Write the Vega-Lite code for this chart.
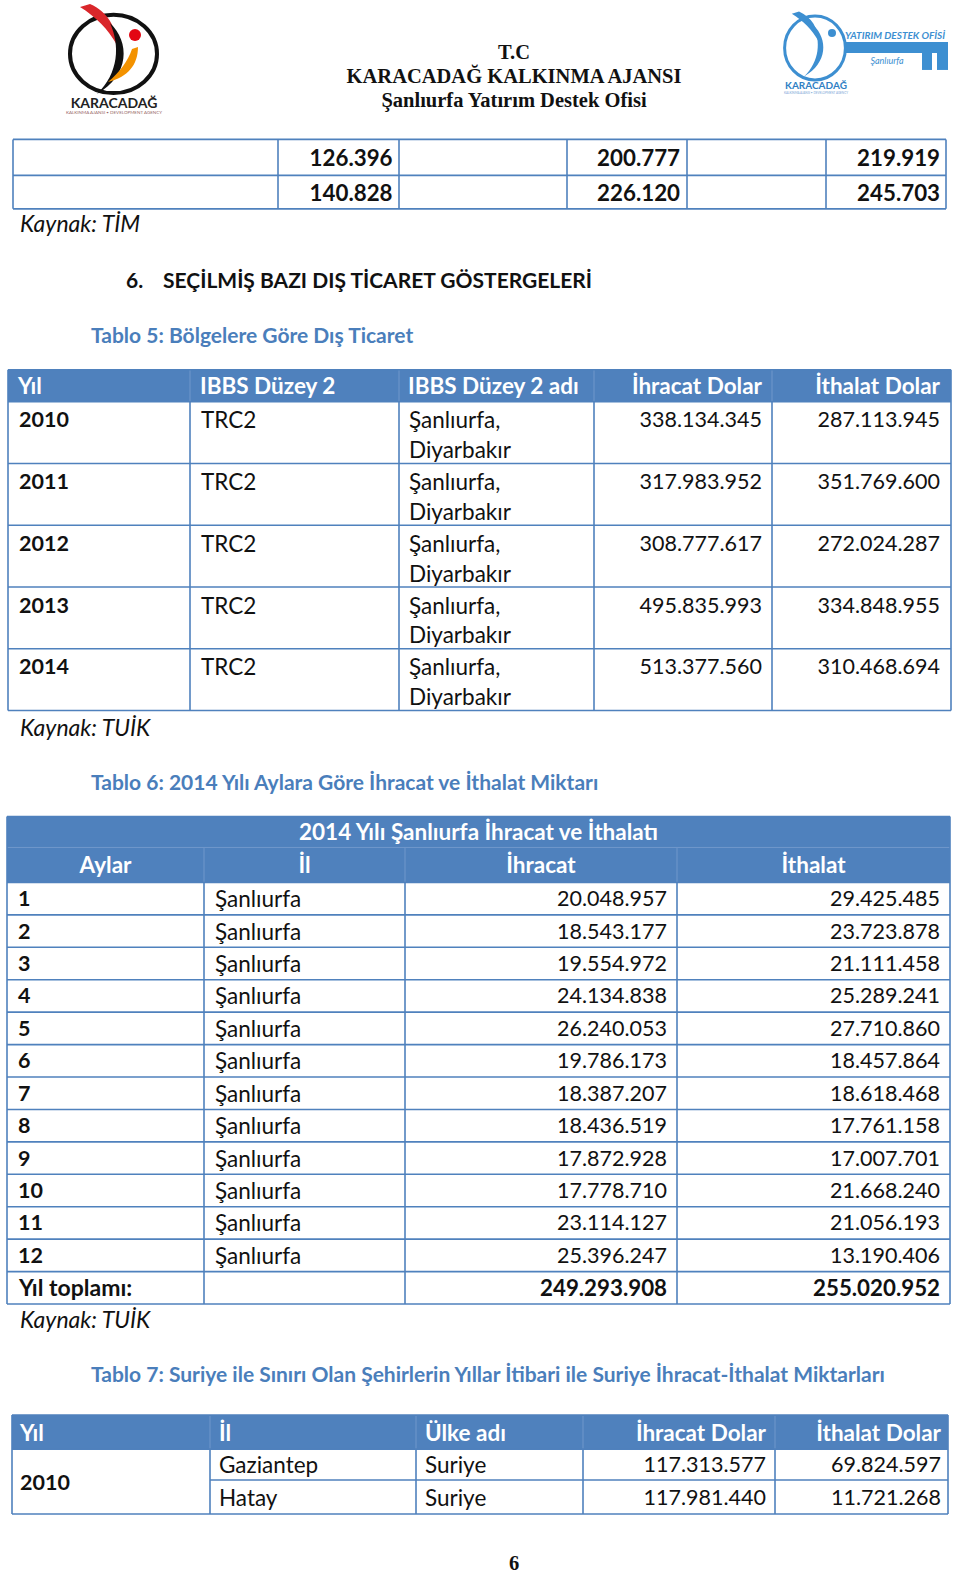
{
  "$schema": "https://vega.github.io/schema/vega-lite/v6.json",
  "width": 960,
  "height": 1575,
  "autosize": {"type": "fit", "contains": "padding"},
  "padding": 0,
  "background": "white",
  "config": {"view": {"stroke": null}, "text": {"font": "Lato"}},
  "datasets": {
    "rules": [
      {"x": 13, "x2": 946, "y": 139.5, "y2": 139.5},
      {"x": 13, "x2": 946, "y": 175.5, "y2": 175.5},
      {"x": 13, "x2": 946, "y": 209, "y2": 209},
      {"x": 13, "x2": 13, "y": 139.5, "y2": 209},
      {"x": 278, "x2": 278, "y": 139.5, "y2": 209},
      {"x": 399, "x2": 399, "y": 139.5, "y2": 209},
      {"x": 567, "x2": 567, "y": 139.5, "y2": 209},
      {"x": 687, "x2": 687, "y": 139.5, "y2": 209},
      {"x": 826, "x2": 826, "y": 139.5, "y2": 209},
      {"x": 946, "x2": 946, "y": 139.5, "y2": 209},

      {"x": 8, "x2": 951, "y": 370, "y2": 370},
      {"x": 8, "x2": 951, "y": 402, "y2": 402},
      {"x": 8, "x2": 951, "y": 463.8, "y2": 463.8},
      {"x": 8, "x2": 951, "y": 525.6, "y2": 525.6},
      {"x": 8, "x2": 951, "y": 587.4, "y2": 587.4},
      {"x": 8, "x2": 951, "y": 649.2, "y2": 649.2},
      {"x": 8, "x2": 951, "y": 711, "y2": 711},
      {"x": 8, "x2": 8, "y": 370, "y2": 711},
      {"x": 951, "x2": 951, "y": 370, "y2": 711},
      {"x": 190, "x2": 190, "y": 402, "y2": 711},
      {"x": 399, "x2": 399, "y": 402, "y2": 711},
      {"x": 594, "x2": 594, "y": 402, "y2": 711},
      {"x": 772, "x2": 772, "y": 402, "y2": 711},

      {"x": 7, "x2": 950, "y": 817, "y2": 817},
      {"x": 7, "x2": 950, "y": 883, "y2": 883},
      {"x": 7, "x2": 950, "y": 915.45, "y2": 915.45},
      {"x": 7, "x2": 950, "y": 947.9, "y2": 947.9},
      {"x": 7, "x2": 950, "y": 980.35, "y2": 980.35},
      {"x": 7, "x2": 950, "y": 1012.8, "y2": 1012.8},
      {"x": 7, "x2": 950, "y": 1045.25, "y2": 1045.25},
      {"x": 7, "x2": 950, "y": 1077.7, "y2": 1077.7},
      {"x": 7, "x2": 950, "y": 1110.15, "y2": 1110.15},
      {"x": 7, "x2": 950, "y": 1142.6, "y2": 1142.6},
      {"x": 7, "x2": 950, "y": 1175.05, "y2": 1175.05},
      {"x": 7, "x2": 950, "y": 1207.5, "y2": 1207.5},
      {"x": 7, "x2": 950, "y": 1239.95, "y2": 1239.95},
      {"x": 7, "x2": 950, "y": 1272.4, "y2": 1272.4},
      {"x": 7, "x2": 950, "y": 1304.85, "y2": 1304.85},
      {"x": 7, "x2": 7, "y": 817, "y2": 1304.85},
      {"x": 950, "x2": 950, "y": 817, "y2": 1304.85},
      {"x": 204, "x2": 204, "y": 883, "y2": 1304.85},
      {"x": 405, "x2": 405, "y": 883, "y2": 1304.85},
      {"x": 677, "x2": 677, "y": 883, "y2": 1304.85},

      {"x": 12, "x2": 948, "y": 1416, "y2": 1416},
      {"x": 12, "x2": 948, "y": 1450, "y2": 1450},
      {"x": 210, "x2": 948, "y": 1481, "y2": 1481},
      {"x": 12, "x2": 948, "y": 1515, "y2": 1515},
      {"x": 12, "x2": 12, "y": 1416, "y2": 1515},
      {"x": 948, "x2": 948, "y": 1416, "y2": 1515},
      {"x": 210, "x2": 210, "y": 1450, "y2": 1515},
      {"x": 416, "x2": 416, "y": 1450, "y2": 1515},
      {"x": 583, "x2": 583, "y": 1450, "y2": 1515},
      {"x": 775, "x2": 775, "y": 1450, "y2": 1515}
    ],
    "faint": [
      {"x": 190, "x2": 190, "y": 370, "y2": 402},
      {"x": 399, "x2": 399, "y": 370, "y2": 402},
      {"x": 594, "x2": 594, "y": 370, "y2": 402},
      {"x": 772, "x2": 772, "y": 370, "y2": 402},
      {"x": 7, "x2": 950, "y": 848, "y2": 848},
      {"x": 204, "x2": 204, "y": 848, "y2": 883},
      {"x": 405, "x2": 405, "y": 848, "y2": 883},
      {"x": 677, "x2": 677, "y": 848, "y2": 883},
      {"x": 210, "x2": 210, "y": 1416, "y2": 1450},
      {"x": 416, "x2": 416, "y": 1416, "y2": 1450},
      {"x": 583, "x2": 583, "y": 1416, "y2": 1450},
      {"x": 775, "x2": 775, "y": 1416, "y2": 1450}
    ],
    "fills": [
      {"x": 8, "x2": 951, "y": 370, "y2": 402},
      {"x": 7, "x2": 950, "y": 817, "y2": 883},
      {"x": 12, "x2": 948, "y": 1416, "y2": 1450}
    ],
    "keyRects": [
      {"x": 845, "x2": 948, "y": 42, "y2": 53},
      {"x": 922, "x2": 932, "y": 53, "y2": 70},
      {"x": 937, "x2": 948, "y": 53, "y2": 70}
    ],
    "logo": [
      {"p": "ringL", "x": 113.5, "y": 54},
      {"p": "partsL", "x": 113.5, "y": 53},
      {"p": "dotL", "x": 135, "y": 35},
      {"p": "ringR", "x": 815, "y": 48},
      {"p": "partsR", "x": 816, "y": 47},
      {"p": "dotR", "x": 832, "y": 33}
    ],
    "logoText": [
      {"p": "bigL", "x": 114, "y": 104, "t": "KARACADAĞ"},
      {"p": "tinyL", "x": 114, "y": 113, "t": "KALKINMA AJANSI • DEVELOPMENT AGENCY"},
      {"p": "bigR", "x": 816, "y": 86, "t": "KARACADAĞ"},
      {"p": "tinyR", "x": 816, "y": 93, "t": "KALKINMA AJANSI • DEVELOPMENT AGENCY"},
      {"p": "ofis", "x": 895, "y": 36, "t": "YATIRIM DESTEK OFİSİ"},
      {"p": "sanli", "x": 887, "y": 61, "t": "Şanlıurfa"}
    ],
    "serif": [
      {"x": 514, "y": 52, "t": "T.C"},
      {"x": 514, "y": 76.5, "t": "KARACADAĞ KALKINMA AJANSI"},
      {"x": 514, "y": 100.5, "t": "Şanlıurfa Yatırım Destek Ofisi"},
      {"x": 514, "y": 1564, "t": "6"}
    ],
    "heading": [
      {"x": 126, "y": 281, "t": "6."},
      {"x": 163, "y": 281, "t": "SEÇİLMİŞ BAZI DIŞ TİCARET GÖSTERGELERİ"}
    ],
    "caption": [
      {"x": 91, "y": 336, "t": "Tablo 5: Bölgelere Göre Dış Ticaret"},
      {"x": 91, "y": 783, "t": "Tablo 6: 2014 Yılı Aylara Göre İhracat ve İthalat Miktarı"},
      {"x": 91, "y": 1376, "t": "Tablo 7: Suriye ile Sınırı Olan Şehirlerin Yıllar İtibari ile Suriye İhracat-İthalat Miktarları"}
    ],
    "ital": [
      {"x": 20, "y": 224, "t": "Kaynak: TİM"},
      {"x": 20, "y": 728, "t": "Kaynak: TUİK"},
      {"x": 20, "y": 1321, "t": "Kaynak: TUİK"}
    ],
    "hdrL": [
      {"x": 18, "y": 386, "t": "Yıl"},
      {"x": 200, "y": 386, "t": "IBBS Düzey 2"},
      {"x": 408, "y": 386, "t": "IBBS Düzey 2 adı"},
      {"x": 20, "y": 1433, "t": "Yıl"},
      {"x": 219, "y": 1433, "t": "İl"},
      {"x": 425, "y": 1433, "t": "Ülke adı"}
    ],
    "hdrR": [
      {"x": 762, "y": 386, "t": "İhracat Dolar"},
      {"x": 940, "y": 386, "t": "İthalat Dolar"},
      {"x": 766, "y": 1433, "t": "İhracat Dolar"},
      {"x": 941, "y": 1433, "t": "İthalat Dolar"}
    ],
    "hdrC": [
      {"x": 478.5, "y": 832.5, "t": "2014 Yılı Şanlıurfa İhracat ve İthalatı"},
      {"x": 105.5, "y": 865.5, "t": "Aylar"},
      {"x": 304.5, "y": 865.5, "t": "İl"},
      {"x": 541, "y": 865.5, "t": "İhracat"},
      {"x": 813.5, "y": 865.5, "t": "İthalat"}
    ],
    "boldL": [
      {"x": 19, "y": 420, "t": "2010"},
      {"x": 19, "y": 481.8, "t": "2011"},
      {"x": 19, "y": 543.6, "t": "2012"},
      {"x": 19, "y": 605.4, "t": "2013"},
      {"x": 19, "y": 667.2, "t": "2014"},
      {"x": 18, "y": 899.2, "t": "1"},
      {"x": 18, "y": 931.7, "t": "2"},
      {"x": 18, "y": 964.1, "t": "3"},
      {"x": 18, "y": 996.6, "t": "4"},
      {"x": 18, "y": 1029.0, "t": "5"},
      {"x": 18, "y": 1061.5, "t": "6"},
      {"x": 18, "y": 1093.9, "t": "7"},
      {"x": 18, "y": 1126.4, "t": "8"},
      {"x": 18, "y": 1158.8, "t": "9"},
      {"x": 18, "y": 1191.3, "t": "10"},
      {"x": 18, "y": 1223.7, "t": "11"},
      {"x": 18, "y": 1256.2, "t": "12"},
      {"x": 20, "y": 1483, "t": "2010"}
    ],
    "boldText": [
      {"x": 19, "y": 1288.6, "t": "Yıl toplamı:"}
    ],
    "boldR": [
      {"x": 392.5, "y": 158, "t": "126.396"},
      {"x": 680, "y": 158, "t": "200.777"},
      {"x": 940, "y": 158, "t": "219.919"},
      {"x": 392.5, "y": 193, "t": "140.828"},
      {"x": 680, "y": 193, "t": "226.120"},
      {"x": 940, "y": 193, "t": "245.703"},
      {"x": 667, "y": 1288.6, "t": "249.293.908"},
      {"x": 940, "y": 1288.6, "t": "255.020.952"}
    ],
    "regL": [
      {"x": 201, "y": 420, "t": "TRC2"},
      {"x": 409, "y": 420, "t": "Şanlıurfa,"},
      {"x": 409, "y": 450, "t": "Diyarbakır"},
      {"x": 201, "y": 481.8, "t": "TRC2"},
      {"x": 409, "y": 481.8, "t": "Şanlıurfa,"},
      {"x": 409, "y": 511.8, "t": "Diyarbakır"},
      {"x": 201, "y": 543.6, "t": "TRC2"},
      {"x": 409, "y": 543.6, "t": "Şanlıurfa,"},
      {"x": 409, "y": 573.6, "t": "Diyarbakır"},
      {"x": 201, "y": 605.4, "t": "TRC2"},
      {"x": 409, "y": 605.4, "t": "Şanlıurfa,"},
      {"x": 409, "y": 635.4, "t": "Diyarbakır"},
      {"x": 201, "y": 667.2, "t": "TRC2"},
      {"x": 409, "y": 667.2, "t": "Şanlıurfa,"},
      {"x": 409, "y": 697.2, "t": "Diyarbakır"},
      {"x": 215, "y": 899.2, "t": "Şanlıurfa"},
      {"x": 215, "y": 931.7, "t": "Şanlıurfa"},
      {"x": 215, "y": 964.1, "t": "Şanlıurfa"},
      {"x": 215, "y": 996.6, "t": "Şanlıurfa"},
      {"x": 215, "y": 1029.0, "t": "Şanlıurfa"},
      {"x": 215, "y": 1061.5, "t": "Şanlıurfa"},
      {"x": 215, "y": 1093.9, "t": "Şanlıurfa"},
      {"x": 215, "y": 1126.4, "t": "Şanlıurfa"},
      {"x": 215, "y": 1158.8, "t": "Şanlıurfa"},
      {"x": 215, "y": 1191.3, "t": "Şanlıurfa"},
      {"x": 215, "y": 1223.7, "t": "Şanlıurfa"},
      {"x": 215, "y": 1256.2, "t": "Şanlıurfa"},
      {"x": 219, "y": 1465.5, "t": "Gaziantep"},
      {"x": 219, "y": 1498, "t": "Hatay"},
      {"x": 425, "y": 1465.5, "t": "Suriye"},
      {"x": 425, "y": 1498, "t": "Suriye"}
    ],
    "regR": [
      {"x": 762, "y": 420, "t": "338.134.345"},
      {"x": 940, "y": 420, "t": "287.113.945"},
      {"x": 762, "y": 481.8, "t": "317.983.952"},
      {"x": 940, "y": 481.8, "t": "351.769.600"},
      {"x": 762, "y": 543.6, "t": "308.777.617"},
      {"x": 940, "y": 543.6, "t": "272.024.287"},
      {"x": 762, "y": 605.4, "t": "495.835.993"},
      {"x": 940, "y": 605.4, "t": "334.848.955"},
      {"x": 762, "y": 667.2, "t": "513.377.560"},
      {"x": 940, "y": 667.2, "t": "310.468.694"},
      {"x": 667, "y": 899.2, "t": "20.048.957"},
      {"x": 940, "y": 899.2, "t": "29.425.485"},
      {"x": 667, "y": 931.7, "t": "18.543.177"},
      {"x": 940, "y": 931.7, "t": "23.723.878"},
      {"x": 667, "y": 964.1, "t": "19.554.972"},
      {"x": 940, "y": 964.1, "t": "21.111.458"},
      {"x": 667, "y": 996.6, "t": "24.134.838"},
      {"x": 940, "y": 996.6, "t": "25.289.241"},
      {"x": 667, "y": 1029.0, "t": "26.240.053"},
      {"x": 940, "y": 1029.0, "t": "27.710.860"},
      {"x": 667, "y": 1061.5, "t": "19.786.173"},
      {"x": 940, "y": 1061.5, "t": "18.457.864"},
      {"x": 667, "y": 1093.9, "t": "18.387.207"},
      {"x": 940, "y": 1093.9, "t": "18.618.468"},
      {"x": 667, "y": 1126.4, "t": "18.436.519"},
      {"x": 940, "y": 1126.4, "t": "17.761.158"},
      {"x": 667, "y": 1158.8, "t": "17.872.928"},
      {"x": 940, "y": 1158.8, "t": "17.007.701"},
      {"x": 667, "y": 1191.3, "t": "17.778.710"},
      {"x": 940, "y": 1191.3, "t": "21.668.240"},
      {"x": 667, "y": 1223.7, "t": "23.114.127"},
      {"x": 940, "y": 1223.7, "t": "21.056.193"},
      {"x": 667, "y": 1256.2, "t": "25.396.247"},
      {"x": 940, "y": 1256.2, "t": "13.190.406"},
      {"x": 766, "y": 1465.5, "t": "117.313.577"},
      {"x": 941, "y": 1465.5, "t": "69.824.597"},
      {"x": 766, "y": 1498, "t": "117.981.440"},
      {"x": 941, "y": 1498, "t": "11.721.268"}
    ]
  },
  "encoding": {
    "x": {"field": "x", "type": "quantitative", "scale": {"domain": [0, 960], "nice": false, "zero": false}, "axis": null},
    "y": {"field": "y", "type": "quantitative", "scale": {"domain": [0, 1575], "nice": false, "zero": false, "reverse": true}, "axis": null}
  },
  "layer": [
    {
      "data": {"name": "fills"},
      "mark": {"type": "rect", "color": "#4f81bd"},
      "encoding": {"x2": {"field": "x2"}, "y2": {"field": "y2"}}
    },
    {
      "data": {"name": "faint"},
      "mark": {"type": "rule", "color": "#7097cb", "strokeWidth": 1},
      "encoding": {"x2": {"field": "x2"}, "y2": {"field": "y2"}}
    },
    {
      "data": {"name": "rules"},
      "mark": {"type": "rule", "color": "#4f81bd", "strokeWidth": 1.6},
      "encoding": {"x2": {"field": "x2"}, "y2": {"field": "y2"}}
    },
    {
      "data": {"name": "keyRects"},
      "mark": {"type": "rect", "color": "#3d8fd1"},
      "encoding": {"x2": {"field": "x2"}, "y2": {"field": "y2"}}
    },
    {
      "data": {"name": "logo"},
      "transform": [{"filter": "datum.p === 'ringL'"}],
      "mark": {"type": "point", "filled": false, "stroke": "#111111", "strokeWidth": 4, "opacity": 1, "size": 7569,
               "shape": "M -1 0 A 1 0.9 0 1 1 1 0 A 1 0.9 0 1 1 -1 0 Z"}
    },
    {
      "data": {"name": "logo"},
      "transform": [{"filter": "datum.p === 'ringR'"}],
      "mark": {"type": "point", "filled": false, "stroke": "#3d8fd1", "strokeWidth": 3, "opacity": 1, "size": 4096,
               "shape": "M -0.95 0 A 0.95 1 0 1 1 0.95 0 A 0.95 1 0 1 1 -0.95 0 Z"}
    },
    {
      "data": {"name": "logo"},
      "transform": [{"filter": "datum.p === 'partsL'"}],
      "mark": {"type": "point", "filled": true, "color": "#d9262a", "opacity": 1, "size": 8100,
               "shape": "M -0.744 -1.022 L -0.522 -1.089 C -0.122 -0.911 0.056 -0.578 0.078 -0.178 C -0.122 -0.533 -0.389 -0.8 -0.744 -1.022 Z"}
    },
    {
      "data": {"name": "logo"},
      "transform": [{"filter": "datum.p === 'partsL'"}],
      "mark": {"type": "point", "filled": true, "color": "#111111", "opacity": 1, "size": 8100,
               "shape": "M -0.078 -0.667 C 0.367 -0.244 0.367 0.489 -0.367 0.911 C 0.122 0.444 0.144 -0.178 -0.078 -0.667 Z"}
    },
    {
      "data": {"name": "logo"},
      "transform": [{"filter": "datum.p === 'partsL'"}],
      "mark": {"type": "point", "filled": true, "color": "#f39200", "opacity": 1, "size": 8100,
               "shape": "M 0.544 -0.133 C 0.544 0.267 0.322 0.533 -0.122 0.644 C 0.144 0.422 0.322 0.178 0.411 -0.089 Z"}
    },
    {
      "data": {"name": "logo"},
      "transform": [{"filter": "datum.p === 'dotL'"}],
      "mark": {"type": "point", "filled": true, "color": "#e30613", "opacity": 1, "size": 144, "shape": "circle"}
    },
    {
      "data": {"name": "logo"},
      "transform": [{"filter": "datum.p === 'partsR'"}],
      "mark": {"type": "point", "filled": true, "color": "#3d8fd1", "opacity": 1, "size": 4225,
               "shape": "M -0.744 -1.022 L -0.522 -1.089 C -0.122 -0.911 0.056 -0.578 0.078 -0.178 C -0.122 -0.533 -0.389 -0.8 -0.744 -1.022 Z"}
    },
    {
      "data": {"name": "logo"},
      "transform": [{"filter": "datum.p === 'partsR'"}],
      "mark": {"type": "point", "filled": true, "color": "#3d8fd1", "opacity": 1, "size": 4225,
               "shape": "M -0.078 -0.667 C 0.367 -0.244 0.367 0.489 -0.367 0.911 C 0.122 0.444 0.144 -0.178 -0.078 -0.667 Z"}
    },
    {
      "data": {"name": "logo"},
      "transform": [{"filter": "datum.p === 'dotR'"}],
      "mark": {"type": "point", "filled": true, "color": "#3d8fd1", "opacity": 1, "size": 64, "shape": "circle"}
    },
    {
      "data": {"name": "logoText"},
      "transform": [{"filter": "datum.p === 'bigL'"}],
      "mark": {"type": "text", "font": "Lato", "fontWeight": "bold", "fontSize": 14, "color": "#222222", "align": "center", "baseline": "middle"},
      "encoding": {"text": {"field": "t"}}
    },
    {
      "data": {"name": "logoText"},
      "transform": [{"filter": "datum.p === 'tinyL'"}],
      "mark": {"type": "text", "font": "Lato", "fontSize": 4.5, "color": "#9a6a6a", "align": "center", "baseline": "middle"},
      "encoding": {"text": {"field": "t"}}
    },
    {
      "data": {"name": "logoText"},
      "transform": [{"filter": "datum.p === 'bigR'"}],
      "mark": {"type": "text", "font": "Lato", "fontWeight": "bold", "fontSize": 10, "color": "#2f7fc4", "align": "center", "baseline": "middle"},
      "encoding": {"text": {"field": "t"}}
    },
    {
      "data": {"name": "logoText"},
      "transform": [{"filter": "datum.p === 'tinyR'"}],
      "mark": {"type": "text", "font": "Lato", "fontSize": 3, "color": "#7aa6d6", "align": "center", "baseline": "middle"},
      "encoding": {"text": {"field": "t"}}
    },
    {
      "data": {"name": "logoText"},
      "transform": [{"filter": "datum.p === 'ofis'"}],
      "mark": {"type": "text", "font": "Lato", "fontStyle": "italic", "fontWeight": "bold", "fontSize": 10, "color": "#3d8fd1", "align": "center", "baseline": "middle"},
      "encoding": {"text": {"field": "t"}}
    },
    {
      "data": {"name": "logoText"},
      "transform": [{"filter": "datum.p === 'sanli'"}],
      "mark": {"type": "text", "font": "Lato", "fontStyle": "italic", "fontSize": 9, "color": "#3d8fd1", "align": "center", "baseline": "middle"},
      "encoding": {"text": {"field": "t"}}
    },
    {
      "data": {"name": "serif"},
      "mark": {"type": "text", "font": "Liberation Serif", "fontWeight": "bold", "fontSize": 20.5, "color": "#111111", "align": "center", "baseline": "middle", "dy": 1},
      "encoding": {"text": {"field": "t"}}
    },
    {
      "data": {"name": "heading"},
      "mark": {"type": "text", "font": "Lato", "fontWeight": "bold", "fontSize": 21, "color": "#111111", "align": "left", "baseline": "middle", "dy": 1},
      "encoding": {"text": {"field": "t"}}
    },
    {
      "data": {"name": "caption"},
      "mark": {"type": "text", "font": "Lato", "fontWeight": "bold", "fontSize": 21, "color": "#4a7ebb", "align": "left", "baseline": "middle", "dy": 1},
      "encoding": {"text": {"field": "t"}}
    },
    {
      "data": {"name": "ital"},
      "mark": {"type": "text", "font": "Lato", "fontStyle": "italic", "fontSize": 23, "color": "#111111", "align": "left", "baseline": "middle", "dy": 1},
      "encoding": {"text": {"field": "t"}}
    },
    {
      "data": {"name": "hdrL"},
      "mark": {"type": "text", "font": "Lato", "fontWeight": "bold", "fontSize": 22.5, "color": "#ffffff", "align": "left", "baseline": "middle", "dy": 1.5},
      "encoding": {"text": {"field": "t"}}
    },
    {
      "data": {"name": "hdrR"},
      "mark": {"type": "text", "font": "Lato", "fontWeight": "bold", "fontSize": 22.5, "color": "#ffffff", "align": "right", "baseline": "middle", "dy": 1.5},
      "encoding": {"text": {"field": "t"}}
    },
    {
      "data": {"name": "hdrC"},
      "mark": {"type": "text", "font": "Lato", "fontWeight": "bold", "fontSize": 22.5, "color": "#ffffff", "align": "center", "baseline": "middle", "dy": 1.5},
      "encoding": {"text": {"field": "t"}}
    },
    {
      "data": {"name": "boldL"},
      "mark": {"type": "text", "font": "Lato", "fontWeight": "bold", "fontSize": 21.5, "color": "#111111", "align": "left", "baseline": "middle", "dy": 1.5},
      "encoding": {"text": {"field": "t"}}
    },
    {
      "data": {"name": "boldText"},
      "mark": {"type": "text", "font": "Lato", "fontWeight": "bold", "fontSize": 23, "color": "#111111", "align": "left", "baseline": "middle", "dy": 1.5},
      "encoding": {"text": {"field": "t"}}
    },
    {
      "data": {"name": "boldR"},
      "mark": {"type": "text", "font": "Lato", "fontWeight": "bold", "fontSize": 22.3, "color": "#111111", "align": "right", "baseline": "middle", "dy": 1.5},
      "encoding": {"text": {"field": "t"}}
    },
    {
      "data": {"name": "regL"},
      "mark": {"type": "text", "font": "Lato", "fontSize": 22.5, "color": "#111111", "align": "left", "baseline": "middle", "dy": 1.5},
      "encoding": {"text": {"field": "t"}}
    },
    {
      "data": {"name": "regR"},
      "mark": {"type": "text", "font": "Lato", "fontSize": 21.5, "color": "#111111", "align": "right", "baseline": "middle", "dy": 1.5},
      "encoding": {"text": {"field": "t"}}
    }
  ]
}
